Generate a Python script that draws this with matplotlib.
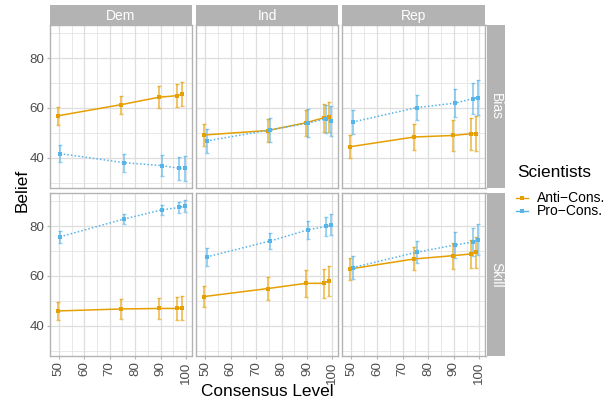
"""Belief vs. consensus level, faceted by party (columns) and measure (rows)."""

import matplotlib

matplotlib.use("Agg")
import matplotlib.pyplot as plt
from matplotlib.lines import Line2D
from matplotlib.ticker import MultipleLocator

plt.rcParams["font.family"] = ["Liberation Sans", "DejaVu Sans"]

LEVELS = [50, 75, 90, 97, 99]
PARTIES = ["Dem", "Ind", "Rep"]
MEASURES = ["Bias", "Skill"]
GROUPS = ["Anti−Cons.", "Pro−Cons."]

# group means
DEM_BIAS_ANTI = [56.8, 61.3, 64.3, 64.9, 65.6]
DEM_BIAS_PRO = [41.6, 38.0, 36.8, 35.7, 35.7]
IND_BIAS_ANTI = [49.1, 50.9, 54.0, 56.0, 56.3]
IND_BIAS_PRO = [46.7, 51.1, 53.9, 55.6, 54.8]
REP_BIAS_ANTI = [44.4, 48.3, 48.9, 49.6, 49.7]
REP_BIAS_PRO = [54.3, 60.1, 61.9, 63.7, 64.1]
DEM_SKILL_ANTI = [45.9, 46.7, 46.9, 46.9, 47.1]
DEM_SKILL_PRO = [75.7, 82.8, 86.5, 87.5, 88.0]
IND_SKILL_ANTI = [51.7, 54.9, 57.0, 57.0, 58.0]
IND_SKILL_PRO = [67.6, 74.0, 78.5, 79.9, 80.5]
REP_SKILL_ANTI = [62.8, 66.8, 68.1, 68.8, 69.5]
REP_SKILL_PRO = [63.3, 69.5, 72.4, 73.6, 74.5]

# error-bar half widths
DEM_BIAS_ANTI_ERR = [3.5, 3.6, 4.3, 4.7, 4.9]
DEM_BIAS_PRO_ERR = [3.5, 3.6, 4.2, 4.6, 5.0]
IND_BIAS_ANTI_ERR = [4.6, 4.7, 5.3, 5.7, 6.1]
IND_BIAS_PRO_ERR = [4.7, 4.7, 5.5, 5.6, 6.0]
REP_BIAS_ANTI_ERR = [4.7, 5.3, 6.1, 6.5, 7.0]
REP_BIAS_PRO_ERR = [4.9, 4.9, 5.6, 6.2, 6.9]
DEM_SKILL_ANTI_ERR = [3.5, 3.9, 4.4, 4.7, 4.9]
DEM_SKILL_PRO_ERR = [2.5, 2.0, 2.0, 2.3, 2.5]
IND_SKILL_ANTI_ERR = [4.2, 4.5, 5.3, 5.7, 6.1]
IND_SKILL_PRO_ERR = [3.5, 3.3, 3.5, 3.9, 4.2]
REP_SKILL_ANTI_ERR = [4.5, 4.6, 5.3, 5.7, 6.2]
REP_SKILL_PRO_ERR = [4.5, 4.5, 5.1, 5.6, 6.2]

MEANS = {
    ("Dem", "Bias"): (DEM_BIAS_ANTI, DEM_BIAS_PRO),
    ("Ind", "Bias"): (IND_BIAS_ANTI, IND_BIAS_PRO),
    ("Rep", "Bias"): (REP_BIAS_ANTI, REP_BIAS_PRO),
    ("Dem", "Skill"): (DEM_SKILL_ANTI, DEM_SKILL_PRO),
    ("Ind", "Skill"): (IND_SKILL_ANTI, IND_SKILL_PRO),
    ("Rep", "Skill"): (REP_SKILL_ANTI, REP_SKILL_PRO),
}
ERRS = {
    ("Dem", "Bias"): (DEM_BIAS_ANTI_ERR, DEM_BIAS_PRO_ERR),
    ("Ind", "Bias"): (IND_BIAS_ANTI_ERR, IND_BIAS_PRO_ERR),
    ("Rep", "Bias"): (REP_BIAS_ANTI_ERR, REP_BIAS_PRO_ERR),
    ("Dem", "Skill"): (DEM_SKILL_ANTI_ERR, DEM_SKILL_PRO_ERR),
    ("Ind", "Skill"): (IND_SKILL_ANTI_ERR, IND_SKILL_PRO_ERR),
    ("Rep", "Skill"): (REP_SKILL_ANTI_ERR, REP_SKILL_PRO_ERR),
}

COLORS = ["#E69F00", "#56B4E9"]
STYLES = ["-", (0, (1, 1.4))]
DODGE = [-0.45, 0.45]
GREY70 = "#B3B3B3"
GRID = "#DEDEDE"
TICKTXT = "#4D4D4D"

W, H = 606, 399
COLS_X = [(49.5, 192.0), (196.0, 338.5), (342.0, 485.5)]
ROWS_Y = [(25.0, 188.0), (193.0, 356.0)]


def px_rect(x0, x1, y0, y1):
    return [x0 / W, 1 - y1 / H, (x1 - x0) / W, (y1 - y0) / H]


def style_panel(ax, show_x, show_y):
    ax.set_xlim(46.3, 102.4)
    ax.set_ylim(27.8, 93.3)
    ax.xaxis.set_major_locator(MultipleLocator(10))
    ax.xaxis.set_minor_locator(MultipleLocator(5))
    ax.yaxis.set_major_locator(MultipleLocator(20))
    ax.yaxis.set_minor_locator(MultipleLocator(10))
    ax.grid(which="major", color=GRID, linewidth=0.9, zorder=0)
    ax.grid(which="minor", color=GRID, linewidth=0.5, zorder=0)
    ax.set_axisbelow(True)
    for sp in ax.spines.values():
        sp.set_color(GREY70)
        sp.set_linewidth(1.0)
    ax.tick_params(which="major", length=2.5, width=0.8, color=GREY70,
                   labelcolor=TICKTXT, labelsize=9.6, pad=1.5)
    ax.tick_params(which="minor", length=0)
    ax.tick_params(axis="x", labelrotation=90,
                   bottom=show_x, labelbottom=show_x)
    ax.tick_params(axis="y", left=show_y, labelleft=show_y)


fig = plt.figure(figsize=(W / 100, H / 100), dpi=100)
fig.patch.set_facecolor("white")

for r, measure in enumerate(MEASURES):
    y0, y1 = ROWS_Y[r]
    for c, party in enumerate(PARTIES):
        x0, x1 = COLS_X[c]
        ax = fig.add_axes(px_rect(x0, x1, y0, y1))
        style_panel(ax, show_x=(r == 1), show_y=(c == 0))
        means, errs = MEANS[(party, measure)], ERRS[(party, measure)]
        for g in range(2):
            xs = [lv + DODGE[g] for lv in LEVELS]
            ax.errorbar(xs, means[g], yerr=errs[g], fmt="none",
                        ecolor=COLORS[g], alpha=0.65, elinewidth=1.3,
                        capsize=1.6, capthick=1.0, zorder=2)
            ax.plot(xs, means[g], color=COLORS[g], linestyle=STYLES[g],
                    linewidth=1.1, marker="s", markersize=3.2,
                    markeredgewidth=0, zorder=3)

        if r == 0:
            sax = fig.add_axes(px_rect(x0, x1, 5.0, 25.0))
            sax.set_facecolor(GREY70)
            sax.set_xticks([])
            sax.set_yticks([])
            for sp in sax.spines.values():
                sp.set_visible(False)
            sax.text(0.5, 0.47, party, color="white", fontsize=10,
                     ha="center", va="center", transform=sax.transAxes)

    sax = fig.add_axes(px_rect(487.0, 505.0, y0, y1))
    sax.set_facecolor(GREY70)
    sax.set_xticks([])
    sax.set_yticks([])
    for sp in sax.spines.values():
        sp.set_visible(False)
    sax.text(0.5, 0.5, measure, color="white", fontsize=10, rotation=-90,
             ha="center", va="center", transform=sax.transAxes)

fig.text(22 / W, 1 - 190 / H, "Belief", rotation=90, fontsize=12.4,
         ha="center", va="center")
fig.text(267 / W, 1 - 391 / H, "Consensus Level", fontsize=12.4,
         ha="center", va="center")

# legend
fig.text(517 / W, 1 - 173 / H, "Scientists", fontsize=12.4,
         ha="left", va="center")
for g, y in zip(range(2), [197.5, 210.5]):
    fig.add_artist(Line2D([516 / W, 528 / W], [1 - y / H, 1 - y / H],
                          color=COLORS[g], linewidth=1.0,
                          transform=fig.transFigure))
    fig.add_artist(Line2D([522 / W], [1 - y / H], color=COLORS[g],
                          marker="s", markersize=2.6, markeredgewidth=0,
                          transform=fig.transFigure))
    fig.text(537 / W, 1 - y / H, GROUPS[g], fontsize=10,
             ha="left", va="center")

fig.savefig("out.png", dpi=100, facecolor="white")
